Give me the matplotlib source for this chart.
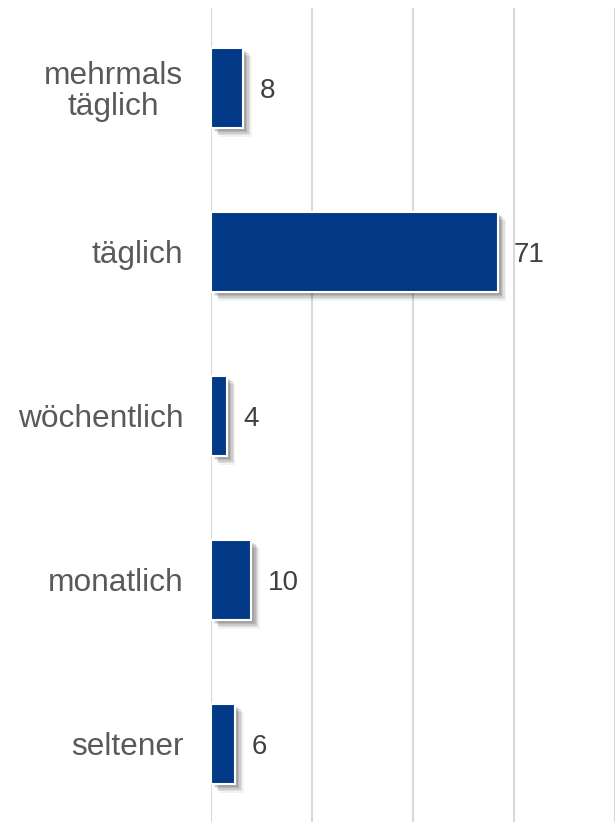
import matplotlib
matplotlib.use("Agg")
import matplotlib.pyplot as plt
import matplotlib.patheffects as pe

categories = ["mehrmals\ntäglich", "täglich", "wöchentlich", "monatlich", "seltener"]
values = [8, 71, 4, 10, 6]
x_ticks = [0, 25, 50, 75, 100]

plt.rcParams['font.family'] = ['Liberation Sans', 'DejaVu Sans']

W, H = 616, 822
fig = plt.figure(figsize=(W / 100, H / 100), dpi=100)
ax = fig.add_axes([211 / W, 0, 404 / W, 814 / H])

ypos = list(range(len(categories)))
shadow = [pe.SimplePatchShadow(offset=(o, -o), shadow_rgbFace='#000000', alpha=a)
          for o, a in [(6, 0.05), (5, 0.07), (4, 0.09), (3, 0.10), (2, 0.10)]]
bars = ax.barh(ypos, values, height=0.49, color='#023A87', edgecolor='white',
               linewidth=1.5, zorder=3)
for b in bars:
    b.set_path_effects(shadow + [pe.Normal()])

for y, v in zip(ypos, values):
    ax.annotate(str(v), xy=(v, y), xytext=(16, -3), textcoords='offset pixels',
                ha='left', va='center', fontsize=20, color='#404040')

top = -80 / 164
ax.set_ylim(top + 814 / 164, top)
ax.set_xlim(0, 100)
ax.set_xticks(x_ticks)
ax.xaxis.grid(True, color='#D9D9D9', linewidth=1.5, zorder=0)
ax.set_axisbelow(True)
ax.tick_params(axis='x', bottom=False, labelbottom=False)
ax.set_yticks(ypos)
ax.set_yticklabels(categories, fontsize=22.8, color='#595959')
for lbl in ax.get_yticklabels():
    lbl.set_multialignment('center')
    lbl.set_linespacing(1.0)
ax.tick_params(axis='y', left=False, pad=16.5)
for s in ax.spines.values():
    s.set_visible(False)

fig.savefig("out.png", dpi=100)
